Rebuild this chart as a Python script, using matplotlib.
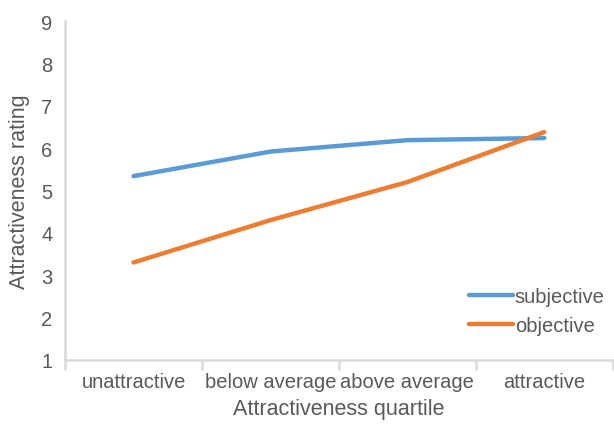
import matplotlib
matplotlib.use("Agg")
import matplotlib.pyplot as plt
import numpy as np

categories = ["unattractive", "below average", "above average", "attractive"]
subjective = [5.34, 5.92, 6.19, 6.24]
objective = [3.30, 4.30, 5.20, 6.38]
yticks = [1, 2, 3, 4, 5, 6, 7, 8, 9]

plt.rcParams['font.family'] = ['Liberation Sans', 'DejaVu Sans']
gray_text = '#595959'
axis_gray = '#D9D9D9'

fig = plt.figure(figsize=(6.14, 4.27), dpi=100)
ax = fig.add_axes([0.106, 0.155, 0.892, 0.793])

x = np.arange(len(categories))
ax.plot(x, subjective, color='#5B9BD5', lw=3.2, solid_capstyle='round', label='subjective')
ax.plot(x, objective, color='#ED7D31', lw=3.2, solid_capstyle='round', label='objective')

ax.set_xlim(-0.5, len(categories) - 0.5)
ax.set_ylim(1, 9)
ax.set_yticks(yticks)
ax.set_xticks(x)
ax.set_xticklabels(categories)
ax.set_xticks(np.arange(-0.5, len(categories), 1.0), minor=True)

for s in ['top', 'right']:
    ax.spines[s].set_visible(False)
for s in ['left', 'bottom']:
    ax.spines[s].set_color(axis_gray)
    ax.spines[s].set_linewidth(1.8)

ax.tick_params(axis='x', which='major', length=0, pad=9, labelsize=14.5, labelcolor=gray_text)
ax.tick_params(axis='x', which='minor', length=7, width=1.8, color=axis_gray, direction='out')
ax.tick_params(axis='y', length=0, pad=9, labelsize=14.5, labelcolor=gray_text)

ax.set_xlabel('Attractiveness quartile', fontsize=15.5, color=gray_text, labelpad=5)
ax.set_ylabel('Attractiveness rating', fontsize=15.5, color=gray_text)
ax.yaxis.set_label_coords(-0.064, 0.5)

leg = ax.legend(loc='lower right', bbox_to_anchor=(1.0, 0.05), frameon=False, fontsize=14.5,
                handlelength=2.2, handletextpad=0.1, labelspacing=0.5, labelcolor=gray_text,
                borderaxespad=0)

fig.savefig('out.png', dpi=100, facecolor='white')
